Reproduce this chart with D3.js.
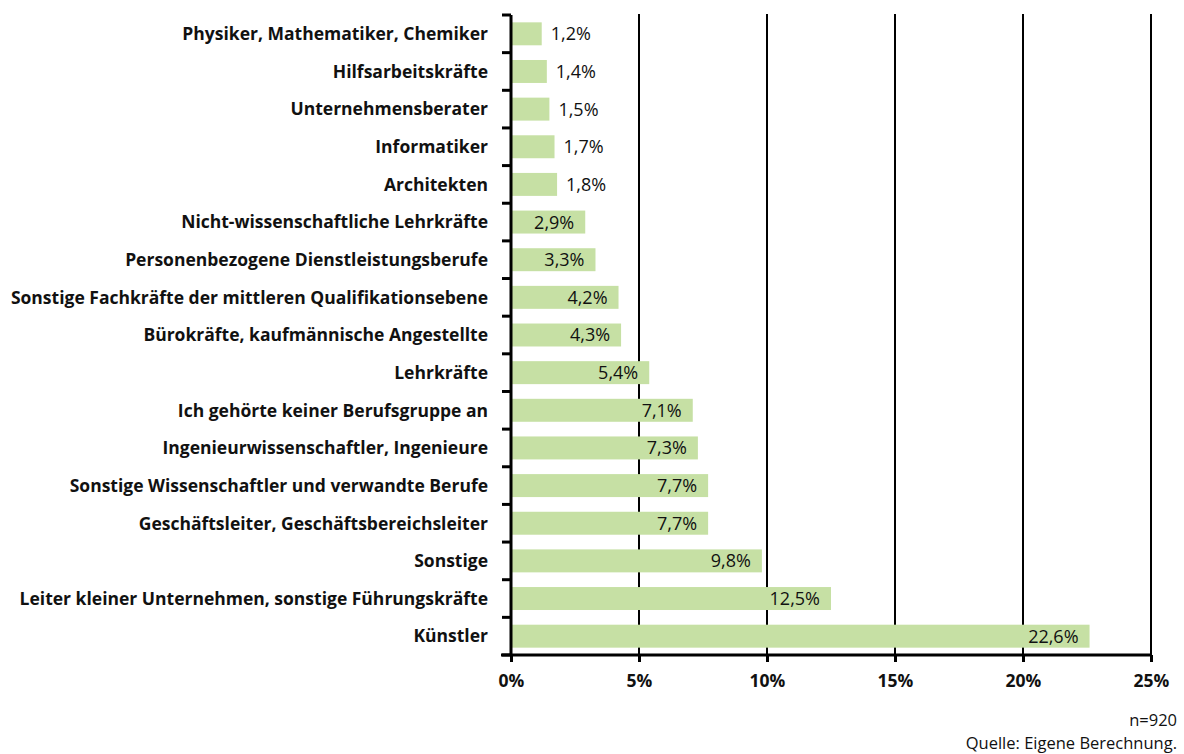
<!DOCTYPE html>
<html>
<head>
<meta charset="utf-8">
<script src="https://cdn.jsdelivr.net/npm/d3@7"></script>
<style>
  body { margin: 0; background: #fff; }
  svg { display: block; font-family: "Open Sans", "Noto Sans", sans-serif; }
</style>
</head>
<body>
<svg id="chart"></svg>
<script>
const categories = [
  "Physiker, Mathematiker, Chemiker",
  "Hilfsarbeitskräfte",
  "Unternehmensberater",
  "Informatiker",
  "Architekten",
  "Nicht-wissenschaftliche Lehrkräfte",
  "Personenbezogene Dienstleistungsberufe",
  "Sonstige Fachkräfte der mittleren Qualifikationsebene",
  "Bürokräfte, kaufmännische Angestellte",
  "Lehrkräfte",
  "Ich gehörte keiner Berufsgruppe an",
  "Ingenieurwissenschaftler, Ingenieure",
  "Sonstige Wissenschaftler und verwandte Berufe",
  "Geschäftsleiter, Geschäftsbereichsleiter",
  "Sonstige",
  "Leiter kleiner Unternehmen, sonstige Führungskräfte",
  "Künstler"
];
const values = [1.2, 1.4, 1.5, 1.7, 1.8, 2.9, 3.3, 4.2, 4.3, 5.4, 7.1, 7.3, 7.7, 7.7, 9.8, 12.5, 22.6];
const xTicks = [0, 5, 10, 15, 20, 25];
const notes = ["n=920", "Quelle: Eigene Berechnung."];

const width = 1184, height = 754;
const margin = { top: 15, right: 33, bottom: 99, left: 511 };
const font = "'Open Sans', 'Noto Sans', sans-serif";

const svg = d3.select("#chart").attr("width", width).attr("height", height);

const x = d3.scaleLinear().domain([0, 25]).range([margin.left, width - margin.right]);
const y = d3.scaleBand().domain(categories).range([margin.top, height - margin.bottom]).paddingInner(0.39).paddingOuter(0.195);

const fmt = v => v.toFixed(1).replace(".", ",") + "%";

// gridlines
svg.append("g")
  .selectAll("line").data(xTicks.slice(1))
  .join("line")
  .attr("x1", d => x(d)).attr("x2", d => x(d))
  .attr("y1", margin.top - 1).attr("y2", height - margin.bottom)
  .attr("stroke", "#000").attr("stroke-width", 2);

// bars
svg.append("g")
  .selectAll("rect").data(values)
  .join("rect")
  .attr("x", x(0))
  .attr("y", (d, i) => y(categories[i]))
  .attr("width", d => x(d) - x(0))
  .attr("height", y.bandwidth())
  .attr("fill", "#c6e0a4");

// value labels: inside end if they fit, else just outside
const labels = svg.append("g")
  .selectAll("text").data(values)
  .join("text")
  .attr("y", (d, i) => y(categories[i]) + y.bandwidth() / 2)
  .attr("dy", "0.36em")
  .attr("font-size", 18)
  .attr("fill", "#111")
  .text(fmt);

labels.each(function(d) {
  const w = this.getComputedTextLength();
  const bw = x(d) - x(0);
  const t = d3.select(this);
  if (w + 20 < bw) {
    t.attr("x", x(d) - 11).attr("text-anchor", "end");
  } else {
    t.attr("x", x(d) + 9).attr("text-anchor", "start");
  }
});

// y axis
const yAxis = svg.append("g")
  .attr("transform", `translate(${x(0)},0)`);
yAxis.append("line")
  .attr("x1", 0).attr("x2", 0)
  .attr("y1", margin.top).attr("y2", height - margin.bottom)
  .attr("stroke", "#000").attr("stroke-width", 3);
const step = y.step();
yAxis.selectAll("line.tick").data(d3.range(categories.length + 1))
  .join("line").attr("class", "tick")
  .attr("x1", -9).attr("x2", 0)
  .attr("y1", i => margin.top + i * step).attr("y2", i => margin.top + i * step)
  .attr("stroke", "#000").attr("stroke-width", 3);
yAxis.selectAll("text").data(categories)
  .join("text")
  .attr("x", -23)
  .attr("y", d => y(d) + y.bandwidth() / 2)
  .attr("dy", "0.36em")
  .attr("text-anchor", "end")
  .attr("font-size", 17.5)
  .attr("font-weight", 700)
  .attr("fill", "#111")
  .text(d => d);

// x axis
const xAxis = svg.append("g")
  .attr("transform", `translate(0,${height - margin.bottom})`)
  .call(d3.axisBottom(x).tickValues(xTicks).tickSize(7).tickPadding(13).tickFormat(d => d + "%"));
xAxis.select(".domain").attr("stroke", "#000").attr("stroke-width", 3)
  .attr("d", `M${x(0) - 10},0H${x(25) + 1}`);
xAxis.selectAll(".tick line").attr("stroke", "#000").attr("stroke-width", 3);
xAxis.selectAll(".tick text")
  .attr("font-family", font)
  .attr("font-size", 17.5).attr("font-weight", 700).attr("fill", "#111");

// notes
svg.append("g")
  .selectAll("text").data(notes)
  .join("text")
  .attr("x", 1177)
  .attr("y", (d, i) => 726 + i * 23)
  .attr("text-anchor", "end")
  .attr("font-size", 16.5)
  .attr("fill", "#111")
  .text(d => d);
</script>
</body>
</html>
